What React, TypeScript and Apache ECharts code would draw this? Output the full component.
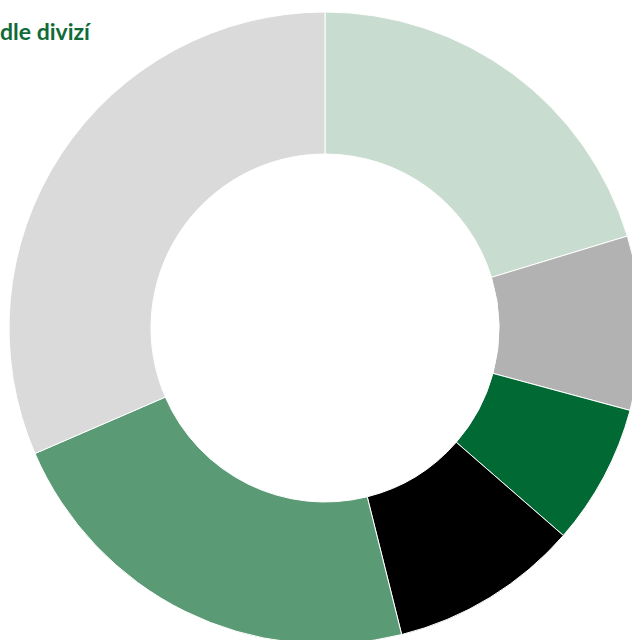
import React, { useEffect, useRef } from "react";
import * as echarts from "echarts";

const categories = ["Divize 1", "Divize 2", "Divize 3", "Divize 4", "Divize 5", "Divize 6"];
const values = [20.3, 8.9, 7.2, 9.7, 22.4, 31.5];
const colors = ["#c9dcd0", "#b2b2b2", "#006934", "#000000", "#5a9b75", "#dadada"];
const titleText = "dle divizí";

export default function App() {
  const ref = useRef<HTMLDivElement>(null);
  useEffect(() => {
    if (!ref.current) return;
    const chart = echarts.init(ref.current, undefined, { renderer: "svg" });
    chart.setOption({
      animation: false,
      graphic: [
        {
          type: "text",
          left: 0,
          top: 19,
          style: {
            text: titleText,
            fill: "#0f6b37",
            font: "bold 23px Lato",
          },
        },
      ],
      series: [
        {
          type: "pie",
          center: [325, 328],
          radius: [174, 316],
          startAngle: 90,
          clockwise: true,
          label: { show: false },
          labelLine: { show: false },
          emphasis: { disabled: true },
          itemStyle: { borderColor: "#ffffff", borderWidth: 1 },
          data: categories.map((c, i) => ({
            name: c,
            value: values[i],
            itemStyle: { color: colors[i] },
          })),
        },
      ],
    });
    return () => chart.dispose();
  }, []);
  return (
    <div
      ref={ref}
      style={{ position: "absolute", left: 0, top: 0, width: 632, height: 640, background: "#fff" }}
    />
  );
}
